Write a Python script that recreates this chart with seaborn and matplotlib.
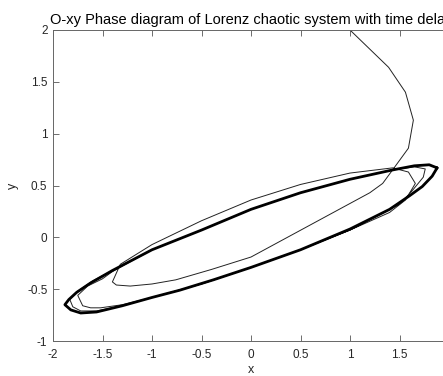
import matplotlib
matplotlib.use("Agg")
import matplotlib.pyplot as plt
import seaborn as sns
import pandas as pd

# Transient trajectory (thin line)
traj_x = [1.00, 1.39, 1.56, 1.64, 1.59, 1.43, 1.33, 1.20, 0.60, 0.00, -0.40, -0.76,
          -1.00, -1.22, -1.36, -1.40, -1.32, -1.00, -0.50, 0.00, 0.50, 1.00, 1.43,
          1.59, 1.66, 1.56, 1.40, 1.00, 0.50, 0.00, -0.50, -1.00, -1.30, -1.52,
          -1.62, -1.70, -1.75, -1.65, -1.50, -1.40, -1.00, -0.50, 0.00, 0.50, 1.00,
          1.43, 1.65, 1.76, 1.74, 1.62, 1.50, 1.00, 0.50, 0.00, -0.50, -1.00, -1.30,
          -1.56, -1.72, -1.80, -1.83, -1.75, -1.60, -1.40, -1.00]
traj_y = [2.00, 1.64, 1.40, 1.13, 0.86, 0.65, 0.52, 0.43, 0.12, -0.19, -0.31, -0.41,
          -0.45, -0.47, -0.46, -0.43, -0.26, -0.07, 0.16, 0.36, 0.51, 0.62, 0.67,
          0.63, 0.52, 0.36, 0.24, 0.07, -0.12, -0.29, -0.45, -0.58, -0.65, -0.68,
          -0.68, -0.66, -0.56, -0.47, -0.40, -0.33, -0.12, 0.07, 0.27, 0.43, 0.56,
          0.65, 0.68, 0.66, 0.58, 0.44, 0.32, 0.07, -0.12, -0.29, -0.45, -0.58, -0.66,
          -0.71, -0.71, -0.67, -0.60, -0.52, -0.42, -0.32, -0.12]

# Converged limit cycle (thick band)
cyc_x = [1.88, 1.83, 1.73, 1.60, 1.40, 1.00, 0.50, 0.00, -0.38, -0.72, -1.00, -1.30,
         -1.56, -1.72, -1.82, -1.88, -1.84, -1.76, -1.62, -1.40, -1.00, -0.50, 0.00,
         0.50, 1.00, 1.43, 1.65, 1.80, 1.88]
cyc_y = [0.67, 0.59, 0.49, 0.40, 0.27, 0.08, -0.12, -0.29, -0.41, -0.51, -0.58, -0.66,
         -0.72, -0.73, -0.70, -0.65, -0.60, -0.53, -0.44, -0.32, -0.12, 0.07, 0.27,
         0.43, 0.56, 0.65, 0.69, 0.70, 0.67]

x_ticks = [-2, -1.5, -1, -0.5, 0, 0.5, 1, 1.5]
y_ticks = [-1, -0.5, 0, 0.5, 1, 1.5, 2]
x_tick_labels = ["-2", "-1.5", "-1", "-0.5", "0", "0.5", "1", "1.5"]
y_tick_labels = ["-1", "-0.5", "0", "0.5", "1", "1.5", "2"]

sns.set_style("white")
plt.rcParams['font.family'] = ['Liberation Sans', 'DejaVu Sans']

fig = plt.figure(figsize=(4.43, 3.76), dpi=100)
ax = fig.add_axes([53/443, 35/376, 396/443, 311/376])

traj = pd.DataFrame({"x": traj_x, "y": traj_y})
cyc = pd.DataFrame({"x": cyc_x, "y": cyc_y})
sns.lineplot(data=traj, x="x", y="y", sort=False, estimator=None, ax=ax,
             color="#222222", linewidth=0.7)
sns.lineplot(data=cyc, x="x", y="y", sort=False, estimator=None, ax=ax,
             color="black", linewidth=2.0)

ax.set_xlim(-2, 2)
ax.set_ylim(-1, 2)
ax.set_xticks(x_ticks)
ax.set_xticklabels(x_tick_labels)
ax.set_yticks(y_ticks)
ax.set_yticklabels(y_tick_labels)
ax.tick_params(direction="in", length=4, width=0.6, color="#555555",
               labelsize=8.5, labelcolor="#262626", top=True, right=True,
               bottom=True, left=True)
ax.tick_params(axis="x", pad=6)
ax.tick_params(axis="y", pad=4)
for s in ax.spines.values():
    s.set_color("#666666")
    s.set_linewidth(0.7)
ax.set_xlabel("x", fontsize=9, color="#262626", labelpad=2)
ax.set_ylabel("y", fontsize=9, color="#262626", labelpad=6)
ax.set_title("O-xy Phase diagram of Lorenz chaotic system with time delay",
             fontsize=10.5, color="black", pad=4)

fig.savefig("out.png", dpi=100)
